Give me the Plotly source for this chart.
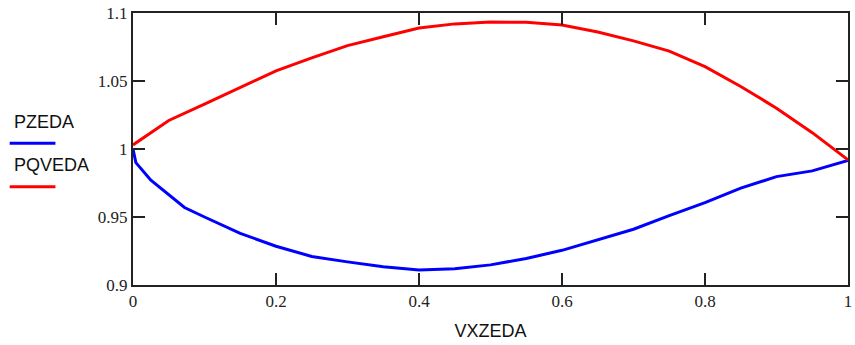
import plotly.graph_objects as go

# ---- data ----
pq_x = [0.0, 0.05, 0.1, 0.15, 0.2, 0.25, 0.3, 0.35, 0.4, 0.45, 0.5,
        0.55, 0.6, 0.65, 0.7, 0.75, 0.8, 0.85, 0.9, 0.95, 1.0]
pqveda = [1.003, 1.021, 1.033, 1.0455, 1.0575, 1.067, 1.076, 1.0825, 1.089, 1.092, 1.0933,
          1.0932, 1.0912, 1.086, 1.0795, 1.072, 1.0605, 1.046, 1.030, 1.012, 0.992]

pz_x = [0.0, 0.004, 0.025, 0.05, 0.072, 0.1, 0.15, 0.2, 0.25, 0.3, 0.35, 0.4,
        0.45, 0.5, 0.55, 0.6, 0.65, 0.7, 0.75, 0.8, 0.85, 0.9, 0.95, 1.0]
pzeda = [1.000, 0.990, 0.977, 0.966, 0.957, 0.950, 0.938, 0.9285, 0.921, 0.917, 0.9135, 0.911,
         0.912, 0.9148, 0.9195, 0.9255, 0.933, 0.941, 0.951, 0.9605, 0.9712, 0.9797, 0.9839, 0.9915]

x_ticks = [0, 0.2, 0.4, 0.6, 0.8, 1]
x_tick_labels = ["0", "0.2", "0.4", "0.6", "0.8", "1"]
y_ticks = [0.9, 0.95, 1.0, 1.05, 1.1]
y_tick_labels = ["0.9", "0.95", "1", "1.05", "1.1"]

series_names = ["PZEDA", "PQVEDA"]
series_colors = ["#0000ff", "#ff0000"]
x_title = "VXZEDA"

# ---- layout geometry (pixels) ----
W, H = 855, 345
L, R, T, B = 133, 3, 13, 60
pw, ph = W - L - R, H - T - B


def px2x(px):
    return (px - L) / pw


def py2y(py):
    return 1 - (py - T) / ph


fig = go.Figure()
fig.add_trace(go.Scatter(x=pz_x, y=pzeda, mode="lines", name=series_names[0],
                         line=dict(color=series_colors[0], width=3), showlegend=False))
fig.add_trace(go.Scatter(x=pq_x, y=pqveda, mode="lines", name=series_names[1],
                         line=dict(color=series_colors[1], width=3), showlegend=False))

serif = "Liberation Serif"
sans = "Liberation Sans"

fig.update_layout(
    width=W, height=H, margin=dict(l=L, r=R, t=T, b=B),
    paper_bgcolor="white", plot_bgcolor="white",
    font=dict(family=serif, size=17, color="#222"),
    xaxis=dict(
        range=[0, 1], tickmode="array", tickvals=x_ticks, ticktext=x_tick_labels,
        tickfont=dict(family=serif, size=17, color="#222"),
        showgrid=False, zeroline=False, showline=True, linecolor="#222",
        linewidth=2, mirror="allticks", ticks="inside", ticklen=12,
        tickwidth=1.5, tickcolor="#222",
        title=dict(text=x_title, font=dict(family=sans, size=18, color="#111"), standoff=14),
    ),
    yaxis=dict(
        range=[0.9, 1.1], tickmode="array", tickvals=y_ticks, ticktext=y_tick_labels,
        tickfont=dict(family=serif, size=17, color="#222"),
        showgrid=False, zeroline=False, showline=True, linecolor="#222",
        linewidth=2, mirror="allticks", ticks="inside", ticklen=12,
        tickwidth=1.5, tickcolor="#222",
    ),
)

# legend built from text + line samples, stacked vertically
legend_text_py = [121.5, 165]
legend_line_py = [143.3, 186.7]
for name, color, tpy, lpy in zip(series_names, series_colors, legend_text_py, legend_line_py):
    fig.add_annotation(x=px2x(11), y=py2y(tpy), xref="paper", yref="paper",
                       text=name, showarrow=False, xanchor="left", yanchor="middle",
                       font=dict(family=sans, size=18, color="#111"))
    fig.add_shape(type="line", xref="paper", yref="paper",
                  x0=px2x(9), x1=px2x(55), y0=py2y(lpy), y1=py2y(lpy),
                  line=dict(color=color, width=3))

fig.write_html("out.html")
